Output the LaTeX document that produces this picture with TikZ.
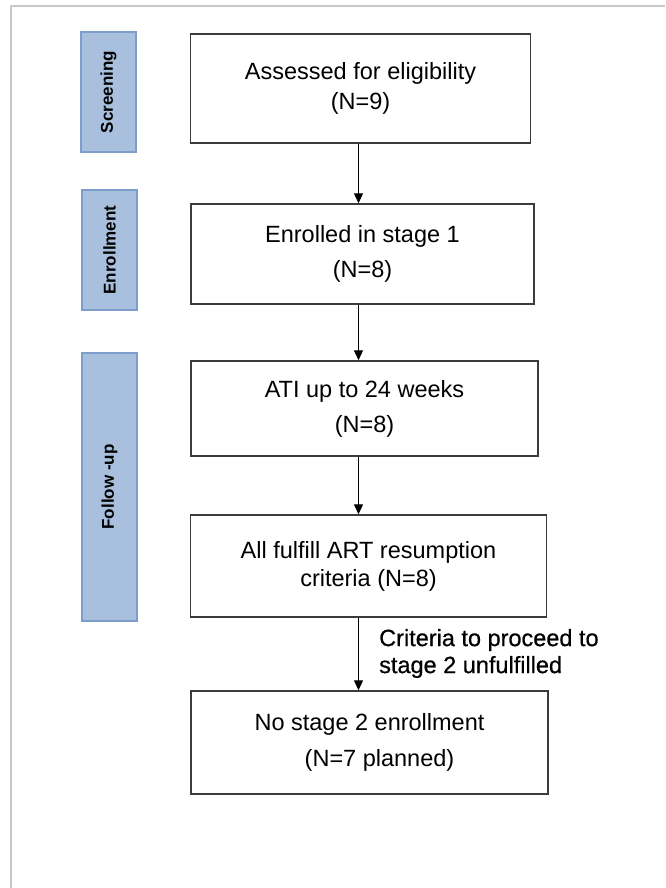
\documentclass[tikz,border=0pt]{standalone}
\usepackage{fontspec}
\setmainfont{Liberation Sans}
\newfontfamily\critfont[FakeBold=0.6]{Liberation Sans}
\usetikzlibrary{arrows.meta}

\definecolor{barfill}{RGB}{168,191,222}
\definecolor{bardraw}{RGB}{125,157,205}
\definecolor{framegray}{RGB}{200,200,200}
\definecolor{boxdraw}{RGB}{60,60,60}

\tikzset{
  flowbox/.style={draw=boxdraw, line width=1.4pt, align=center, inner sep=0pt,
    font=\fontsize{23.5}{28}\selectfont},
  phasebar/.style={draw=bardraw, line width=1.5pt, fill=barfill, rotate=90,
    inner sep=0pt, minimum height=55pt, font=\fontsize{17}{20}\selectfont\bfseries},
  flowarrow/.style={-{Triangle[width=9pt,length=10pt]}, line width=1pt}
}

\begin{document}
\begin{tikzpicture}[x=1pt,y=-1pt]
\useasboundingbox (0,0) rectangle (665,888);
\fill[white] (0,0) rectangle (665,888);

% outer frame
\draw[framegray, line width=2pt] (10.5,888) -- (10.5,6.5) -- (665,6.5);

% phase bars
\node[phasebar, minimum width=120pt] (lscreen) at (108.5,92) {Screening};
\node[phasebar, minimum width=120pt] (lenrol) at (109.5,250) {Enrollment};
\node[phasebar, minimum width=268pt] (lfollow) at (109.5,487) {Follow -up};

% flow boxes
\node[flowbox, minimum width=340pt, minimum height=109pt] (assess) at (360.5,88.5)
  {Assessed for eligibility\\[2pt](N=9)};
\node[flowbox, minimum width=343pt, minimum height=100pt] (enrol) at (362.5,254)
  {Enrolled in stage 1\\[7pt](N=8)};
\node[flowbox, minimum width=347pt, minimum height=95pt] (ati) at (364.5,408.5)
  {ATI up to 24 weeks\\[7pt](N=8)};
\node[flowbox, minimum width=356pt, minimum height=102pt] (resume) at (368.5,566)
  {All fulfill ART resumption\\criteria (N=8)};
\node[flowbox, minimum width=357pt, minimum height=103pt] (nostage) at (369.5,742.5)
  {No stage 2 enrollment\\[8pt]\hspace*{20pt}(N=7 planned)};

% arrow label
\node[anchor=west, align=left, inner sep=0pt,
  font=\critfont\fontsize{23.5}{27}\selectfont] (crit) at (379,653.5)
  {Criteria to proceed to\\stage 2 unfulfilled};

% arrows
\coordinate (axis) at (358.5,0);
\draw[flowarrow] (assess.south -| axis) -- (enrol.north -| axis);
\draw[flowarrow] (enrol.south -| axis) -- (ati.north -| axis);
\draw[flowarrow] (ati.south -| axis) -- (resume.north -| axis);
\draw[flowarrow] (resume.south -| axis) -- (nostage.north -| axis);
\end{tikzpicture}
\end{document}
